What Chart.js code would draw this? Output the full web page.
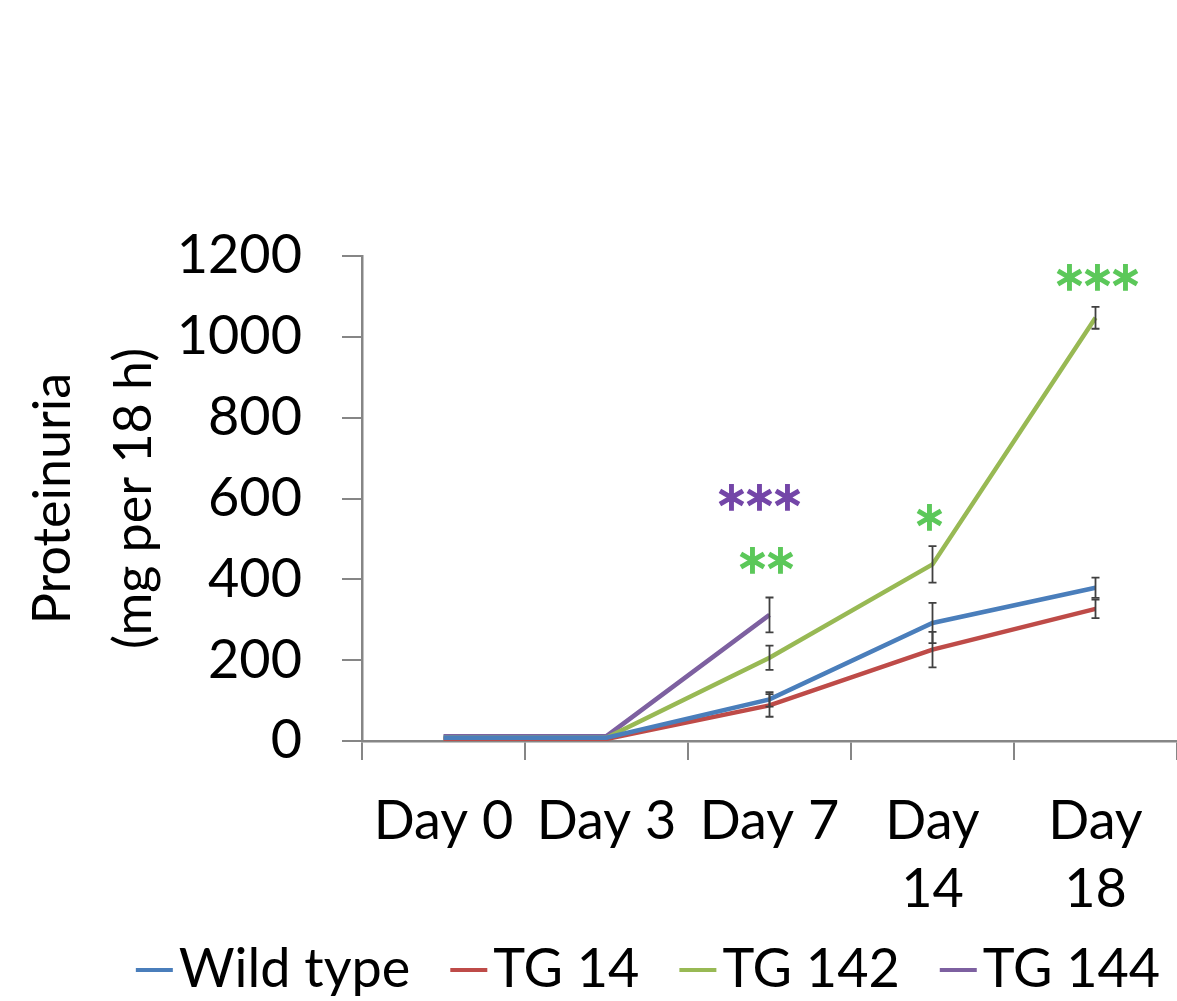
<!DOCTYPE html>
<html><head><meta charset="utf-8">
<script src="https://cdn.jsdelivr.net/npm/chart.js@4.4.1/dist/chart.umd.min.js"></script>
<style>html,body{margin:0;padding:0;background:#fff}#wrap{width:1177px;height:1001px}</style>
</head><body><div id="wrap"><canvas id="c" width="1177" height="1001"></canvas></div>
<script>
// ---- data ----
const categories = ['Day 0', 'Day 3', 'Day 7', ['Day', '14'], ['Day', '18']];
const seriesNames = ['Wild type', 'TG 14', 'TG 142', 'TG 144'];
const wildType = [8, 8, 103, 292, 379];
const tg14 = [4, 5, 88, 226, 327];
const tg142 = [8, 8, 206, 437, 1047];
const tg144 = [12, 12, 312, null, null];
const wildTypeErr = [0, 0, 18, 50, 25];
const tg14Err = [0, 0, 28, 44, 23];
const tg142Err = [0, 0, 30, 45, 27];
const tg144Err = [0, 0, 43, null, null];
const yTicks = [0, 200, 400, 600, 800, 1000, 1200];
const yTitle = ['Proteinuria', '(mg per 18 h)'];
// significance marks
const sigText = ['***', '**', '*', '***'];
const sigIndex = [2, 2, 3, 4];
const sigValue = [597, 441, 547, 1142];
const sigSeries = [3, 2, 2, 2];
const sigShift = [-10, -3, -3, 2];

const colors = ['#4a7ebb', '#be4b48', '#98b954', '#7d60a0'];
const sigColors = ['#4a7ebb', '#be4b48', '#5cc85a', '#7446a8'];
const FONT = 'Lato';

const seriesValues = [wildType, tg14, tg142, tg144];
const seriesErr = [wildTypeErr, tg14Err, tg142Err, tg144Err];

const errorBars = {
  id: 'errorBars',
  afterDatasetsDraw(chart) {
    const ctx = chart.ctx, xs = chart.scales.x, ys = chart.scales.y;
    ctx.save();
    ctx.strokeStyle = '#404040';
    ctx.lineWidth = 1.8;
    chart.data.datasets.forEach((ds, di) => {
      const err = seriesErr[di];
      ds.data.forEach((v, i) => {
        if (v == null || !err[i]) return;
        const x = xs.getPixelForValue(i);
        const y1 = ys.getPixelForValue(v + err[i]);
        const y2 = ys.getPixelForValue(v - err[i]);
        ctx.beginPath();
        ctx.moveTo(x, y1); ctx.lineTo(x, y2);
        ctx.moveTo(x - 4, y1); ctx.lineTo(x + 4, y1);
        ctx.moveTo(x - 4, y2); ctx.lineTo(x + 4, y2);
        ctx.stroke();
      });
    });
    ctx.restore();
  }
};

const sigMarks = {
  id: 'sigMarks',
  afterDraw(chart) {
    const ctx = chart.ctx, xs = chart.scales.x, ys = chart.scales.y;
    ctx.save();
    ctx.font = '40px "DejaVu Sans"';
    ctx.textAlign = 'center';
    ctx.textBaseline = 'middle';
    ctx.lineWidth = 1.6;
    const step = 28;
    sigText.forEach((t, k) => {
      ctx.fillStyle = sigColors[sigSeries[k]];
      ctx.strokeStyle = sigColors[sigSeries[k]];
      const cx = xs.getPixelForValue(sigIndex[k]) + sigShift[k];
      const y = ys.getPixelForValue(sigValue[k]);
      const n = t.length;
      for (let j = 0; j < n; j++) {
        const px = cx + (j - (n - 1) / 2) * step;
        ctx.fillText('\u2217', px, y);
        ctx.strokeText('\u2217', px, y);
      }
    });
    ctx.restore();
  }
};

const bottomLegend = {
  id: 'bottomLegend',
  afterDraw(chart) {
    const ctx = chart.ctx;
    ctx.save();
    ctx.font = '54px ' + FONT;
    ctx.textBaseline = 'middle';
    ctx.textAlign = 'left';
    const markW = 37, gap = 6, space = 40, y = 970;
    const items = chart.data.datasets.map(d => ({ t: d.label, c: d.borderColor, w: ctx.measureText(d.label).width }));
    let total = items.reduce((s, it) => s + markW + gap + it.w, 0) + space * (items.length - 1);
    let x = 648 - total / 2;
    items.forEach(it => {
      ctx.strokeStyle = it.c;
      ctx.lineWidth = 4;
      ctx.beginPath(); ctx.moveTo(x, y); ctx.lineTo(x + markW, y); ctx.stroke();
      ctx.fillStyle = '#000';
      ctx.fillText(it.t, x + markW + gap, y);
      x += markW + gap + it.w + space;
    });
    ctx.restore();
  }
};

new Chart(document.getElementById('c'), {
  type: 'line',
  data: {
    labels: categories,
    datasets: seriesNames.map((n, i) => ({
      label: n,
      data: seriesValues[i],
      borderColor: colors[i],
      backgroundColor: colors[i],
      borderWidth: 4.5,
      pointRadius: 0,
      tension: 0,
      fill: false,
      spanGaps: false
    }))
  },
  options: {
    responsive: false,
    animation: false,
    devicePixelRatio: 1,
    layout: { padding: { top: 256, right: 0, bottom: 0, left: 0 } },
    plugins: { legend: { display: false }, tooltip: { enabled: false } },
    scales: {
      x: {
        type: 'category',
        offset: true,
        afterFit: s => { s.height = 260; },
        grid: { offset: true, drawOnChartArea: false, drawTicks: true, tickLength: 19, color: '#868686', lineWidth: 2 },
        border: { display: true, color: '#868686', width: 2.5 },
        ticks: { color: '#000', font: { family: FONT, size: 54, lineHeight: 1.26 }, padding: 28, maxRotation: 0, autoSkip: false }
      },
      y: {
        min: 0, max: 1200,
        afterBuildTicks: s => { s.ticks = yTicks.map(v => ({ value: v })); },
        afterFit: s => { s.width = 362; },
        grid: { drawOnChartArea: false, drawTicks: true, tickLength: 20, color: '#868686', lineWidth: 2 },
        border: { display: true, color: '#868686', width: 2.5 },
        ticks: { color: '#000', font: { family: FONT, size: 54 }, padding: 40, callback: v => String(v) },
        title: { display: true, text: yTitle, color: '#000', font: { family: FONT, size: 52, lineHeight: '81px' }, padding: { top: 13, bottom: 0 } }
      }
    }
  },
  plugins: [errorBars, sigMarks, bottomLegend]
});
</script></body></html>
